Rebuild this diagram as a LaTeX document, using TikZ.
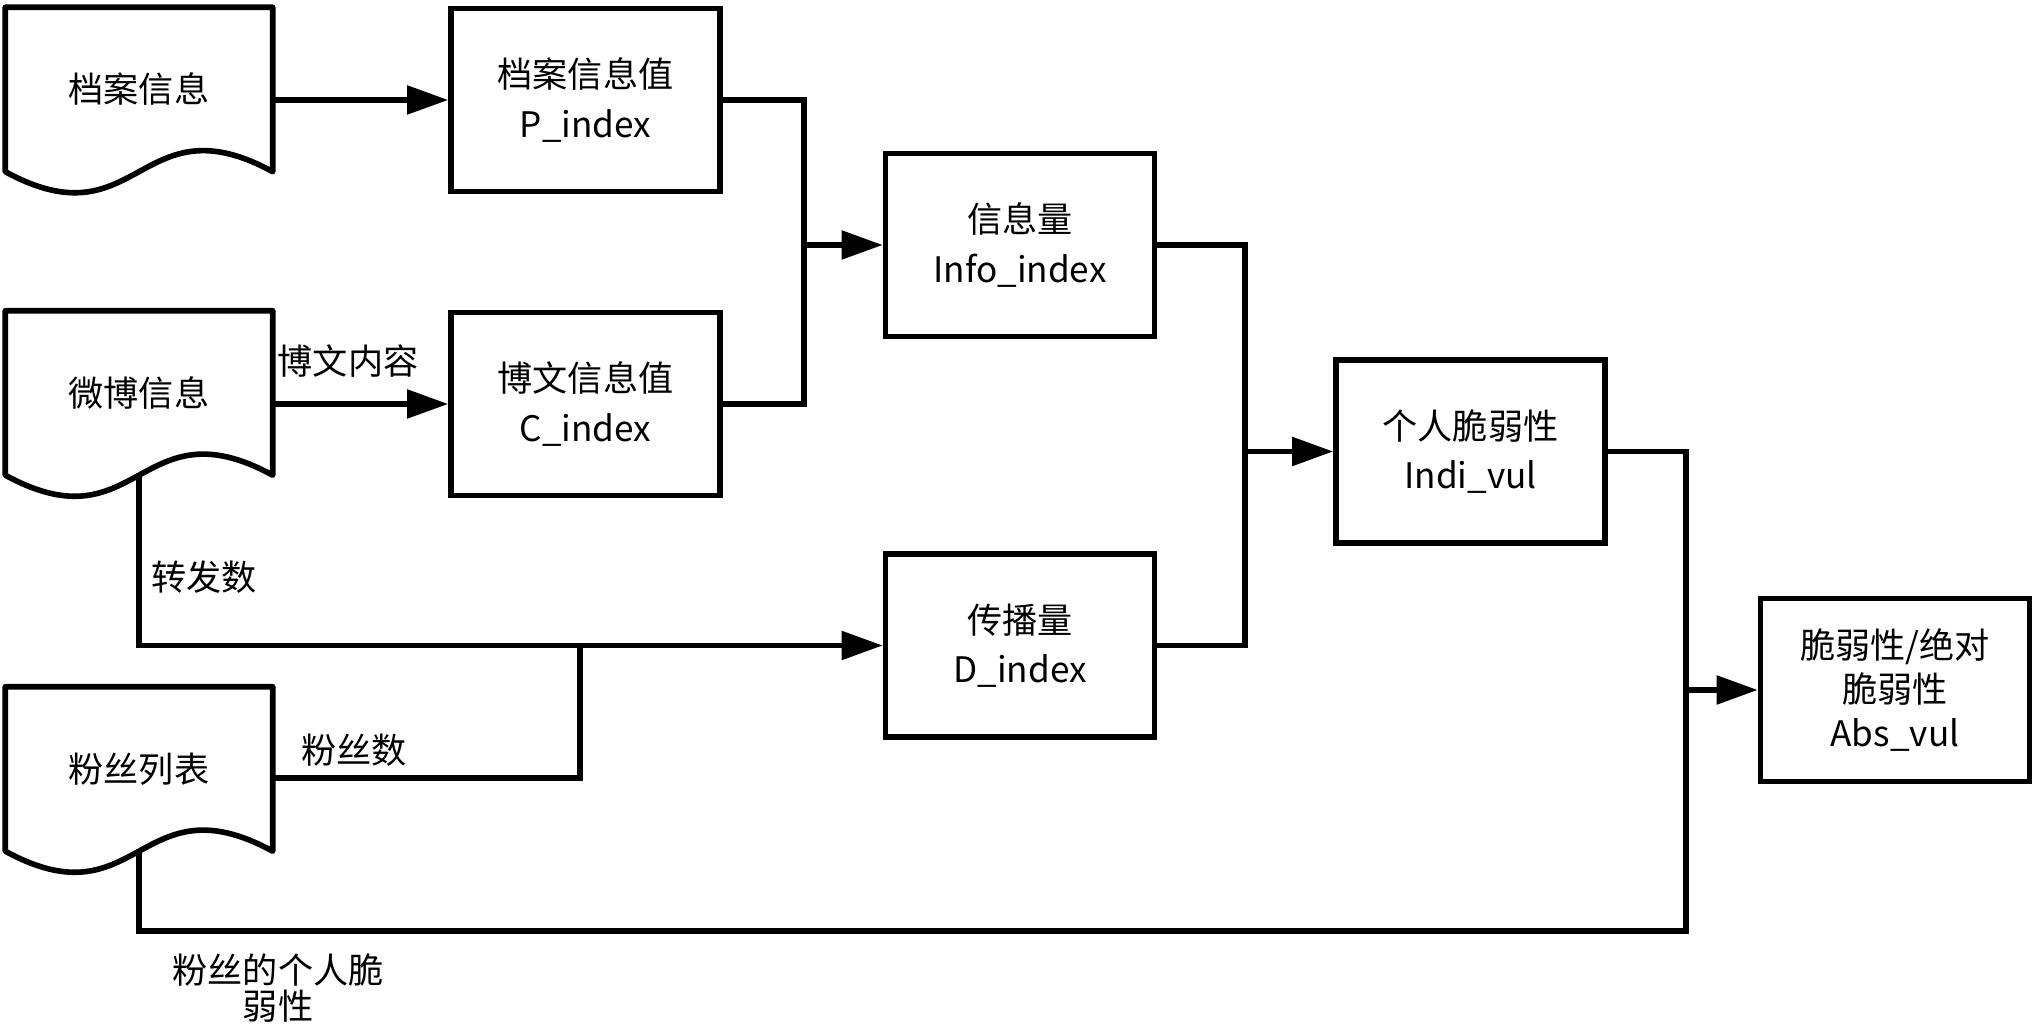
\documentclass[tikz,border=0pt]{standalone}
\usepackage{fontspec}
\setmainfont{Noto Sans CJK SC}
\usetikzlibrary{arrows.meta,calc}

\tikzset{
  docnode/.style={minimum width=2.66cm,minimum height=1.63cm,inner sep=0pt},
  procbox/.style={draw,line width=1.6pt,minimum width=2.69cm,minimum height=1.83cm,align=center,inner sep=0pt},
  link/.style={line width=1.5pt},
  flow/.style={link,-{Triangle[length=0.41cm,width=0.28cm]}},
  lbl/.style={inner sep=0pt,align=center}
}

\begin{document}
\begin{tikzpicture}[font=\fontsize{10}{14}\selectfont]
    \useasboundingbox (0,0) rectangle (20.34,-10.29);

    % data sources
    \node[docnode] (archive) at (1.39,-0.895) {档案信息};
    \node[docnode] (weibo) at (1.39,-3.93) {微博信息};
    \node[docnode] (fans) at (1.39,-7.69) {粉丝列表};
    \foreach \d in {archive,weibo,fans}{
        \draw[line width=1.6pt,line join=round] (\d.south west) -- (\d.north west) -- (\d.north east) -- (\d.south east)
            .. controls ($(\d.south)+(0,0.73)$) and ($(\d.south)+(0,-0.73)$) .. (\d.south west) -- cycle;
    }

    % index boxes
    \node[procbox] (pidx) at (5.855,-1.00) {档案信息值\\P\_index};
    \node[procbox] (cidx) at (5.855,-4.04) {博文信息值\\C\_index};
    \node[procbox] (info) at (10.20,-2.45) {信息量\\Info\_index};
    \node[procbox] (didx) at (10.20,-6.455) {传播量\\D\_index};
    \node[procbox] (indi) at (14.705,-4.515) {个人脆弱性\\Indi\_vul};
    \node[procbox,font=\fontsize{10}{12.5}\selectfont] (abs) at (18.95,-6.90) {脆弱性/绝对\\脆弱性\\Abs\_vul};

    % junctions
    \coordinate (joinA) at (8.04,-2.45);
    \coordinate (joinB) at (12.45,-4.515);
    \coordinate (joinC) at (16.86,-6.90);
    \coordinate (joinD) at (5.80,-6.455);
    \coordinate (bottomC) at (16.86,-9.31);

    % connectors
    \draw[flow] (pidx.west -| archive.east) -- (pidx.west);
    \draw[flow] (cidx.west -| weibo.east) -- (cidx.west);
    \draw[link] (pidx.east) -| (joinA) |- (cidx.east);
    \draw[flow] (joinA) -- (info.west);
    \draw[link] (info.east) -| (joinB) |- (didx.east);
    \draw[flow] (joinB) -- (indi.west);
    \draw[link] (indi.east) -| (bottomC) -| (fans.south);
    \draw[flow] (joinC) -- (abs.west);
    \draw[flow] (weibo.south) |- (didx.west);
    \draw[link] ([yshift=-0.09cm]fans.east) -| (joinD);

    % labels
    \node[lbl] (lcontent) at (3.48,-3.61) {博文内容};
    \node[lbl] (lforward) at (2.04,-5.77) {转发数};
    \node[lbl] (lfanscount) at (3.54,-7.50) {粉丝数};
    \node[lbl,font=\fontsize{10}{10.5}\selectfont] (lfansvul) at (2.78,-9.88) {粉丝的个人脆\\弱性};
\end{tikzpicture}
\end{document}
